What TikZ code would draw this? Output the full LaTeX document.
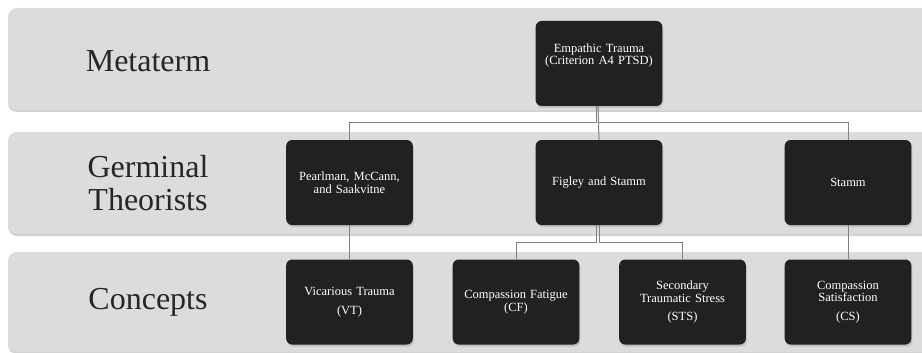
\documentclass[tikz,border=0pt]{standalone}
\usepackage{fontspec}
\setmainfont{Liberation Serif}
\usetikzlibrary{shadows}
\definecolor{bandgray}{HTML}{DCDCDA}
\definecolor{boxblack}{HTML}{212121}
\definecolor{linegray}{HTML}{808080}
\tikzset{
  band/.style={fill=bandgray, rounded corners=9pt, drop shadow={shadow xshift=0pt, shadow yshift=-2pt, opacity=0.35}},
  term/.style={draw=none, fill=boxblack, text=white, rounded corners=6pt, minimum width=126pt, minimum height=85pt, text width=120pt, align=center, font=\fontsize{12.5}{12.5}\selectfont, drop shadow={shadow xshift=1pt, shadow yshift=-2pt, opacity=0.3}},
  level/.style={font=\fontsize{32}{33}\selectfont, text=black!85, align=center},
  conn/.style={draw=linegray, line width=1pt}
}
\begin{document}
\begin{tikzpicture}[x=1pt, y=-1pt]
		\useasboundingbox (0,0) rectangle (922,353);
		\fill[white] (0,0) rectangle (922,353);
		
		\fill[band] (8,8) rectangle (940,110);
		\fill[band] (8,132) rectangle (940,234);
		\fill[band] (8,252) rectangle (940,352);
		
		\node[level] (L1) at (148,61) {Metaterm};
		\node[level] (L2) at (148,183) {Germinal\\Theorists};
		\node[level] (L3) at (148,302) {Concepts};
		
		\node[term] (E) at (599,63.5) {Empathic Trauma\\(Criterion A4 PTSD)\\[6pt]\mbox{}};
		\node[term] (P) at (349.5,182.5) {Pearlman, McCann,\\and Saakvitne};
		\node[term] (F) at (599,182.5) {Figley and Stamm};
		\node[term] (S) at (848,182.5) {Stamm};
		\node[term] (VT) at (349.5,302) {Vicarious Trauma\\[6pt](VT)};
		\node[term] (CF) at (516,302) {Compassion Fatigue\\(CF)};
		\node[term] (STS) at (682.5,302) {Secondary\\Traumatic Stress\\[6pt](STS)};
		\node[term] (CS) at (848,302) {Compassion\\Satisfaction\\[6pt](CS)};
		
		\coordinate (bus1) at (0,123);
		\coordinate (bus2) at (0,242);
		
		\path[conn] ([xshift=-3pt]E.south) -- ([xshift=-3pt]E.south |- bus1) -| (P.north);
		\path[conn] ([xshift=-1pt]E.south) -- (F.north);
		\path[conn] ([xshift=-1pt]E.south |- bus1) -| (S.north);
		\path[conn] (P.south) -- (VT.north);
		\path[conn] ([xshift=-3pt]F.south) -- ([xshift=-3pt]F.south |- bus2) -| (CF.north);
		\path[conn] (F.south) -- (F.south |- bus2) -| (STS.north);
		\path[conn] (S.south) -- (CS.north);
\end{tikzpicture}
\end{document}
